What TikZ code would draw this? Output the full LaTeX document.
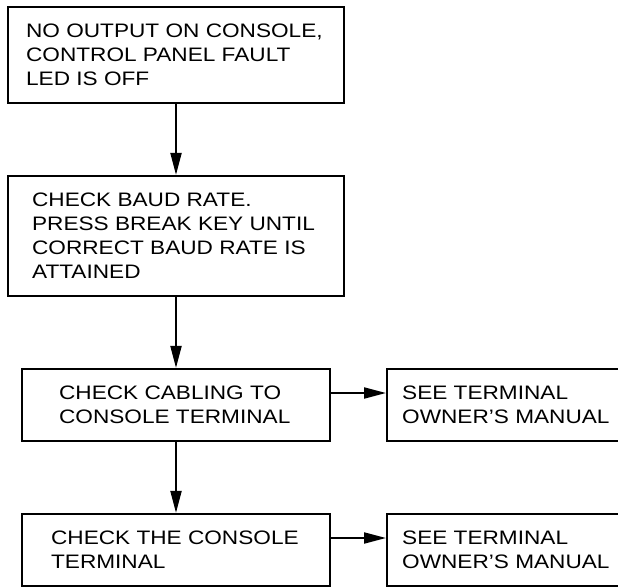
\documentclass[tikz,border=0pt]{standalone}
\usepackage{fontspec}
\newfontfamily\diagfont[FakeStretch=1.16]{Liberation Sans}
\usetikzlibrary{arrows.meta}

\tikzset{
  stepbox/.style={draw=black, line width=2.2pt, rectangle, inner sep=0pt},
  label/.style={inner sep=0pt, anchor=west, align=left,
                font=\diagfont\fontsize{19.5}{24}\selectfont},
  flow/.style={draw=black, line width=2pt,
               -{Triangle[length=22pt,width=11pt]}},
}

\begin{document}
\begin{tikzpicture}[x=1pt, y=-1pt]
  \useasboundingbox (0,0) rectangle (618,587);
  \clip (0,0) rectangle (618,587);

  % main column of checks
  \node[stepbox, minimum width=336pt, minimum height=96pt]  (b1) at (176,55)  {};
  \node[stepbox, minimum width=336pt, minimum height=120pt] (b2) at (176,236) {};
  \node[stepbox, minimum width=308pt, minimum height=72pt]  (b3) at (176,405) {};
  \node[stepbox, minimum width=308pt, minimum height=72pt]  (b4) at (176,550) {};

  % referral boxes on the right (run past the right edge)
  \node[stepbox, minimum width=260pt, minimum height=72pt, anchor=west] (r1) at (386,405) {};
  \node[stepbox, minimum width=260pt, minimum height=72pt, anchor=west] (r2) at (386,550) {};

  % box texts
  \node[label] (t1) at ([xshift=19pt]b1.west)
    {NO OUTPUT ON CONSOLE,\\CONTROL PANEL FAULT\\LED IS OFF};
  \node[label] (t2) at ([xshift=25pt]b2.west)
    {CHECK BAUD RATE.\\PRESS BREAK KEY UNTIL\\CORRECT BAUD RATE IS\\ATTAINED};
  \node[label] (t3) at ([xshift=38pt]b3.west)
    {CHECK CABLING TO\\CONSOLE TERMINAL};
  \node[label] (t4) at ([xshift=30pt]b4.west)
    {CHECK THE CONSOLE\\TERMINAL};
  \node[label] (t5) at ([xshift=16pt]r1.west)
    {SEE TERMINAL\\OWNER’S MANUAL};
  \node[label] (t6) at ([xshift=16pt]r2.west)
    {SEE TERMINAL\\OWNER’S MANUAL};

  % connectors
  \draw[flow] (b1.south) -- (b2.north);
  \draw[flow] (b2.south) -- (b3.north);
  \draw[flow] (b3.south) -- (b4.north);
  \draw[flow] ([yshift=12pt]b3.east) -- ([yshift=12pt]r1.west);
  \draw[flow] ([yshift=12pt]b4.east) -- ([yshift=12pt]r2.west);
\end{tikzpicture}
\end{document}
